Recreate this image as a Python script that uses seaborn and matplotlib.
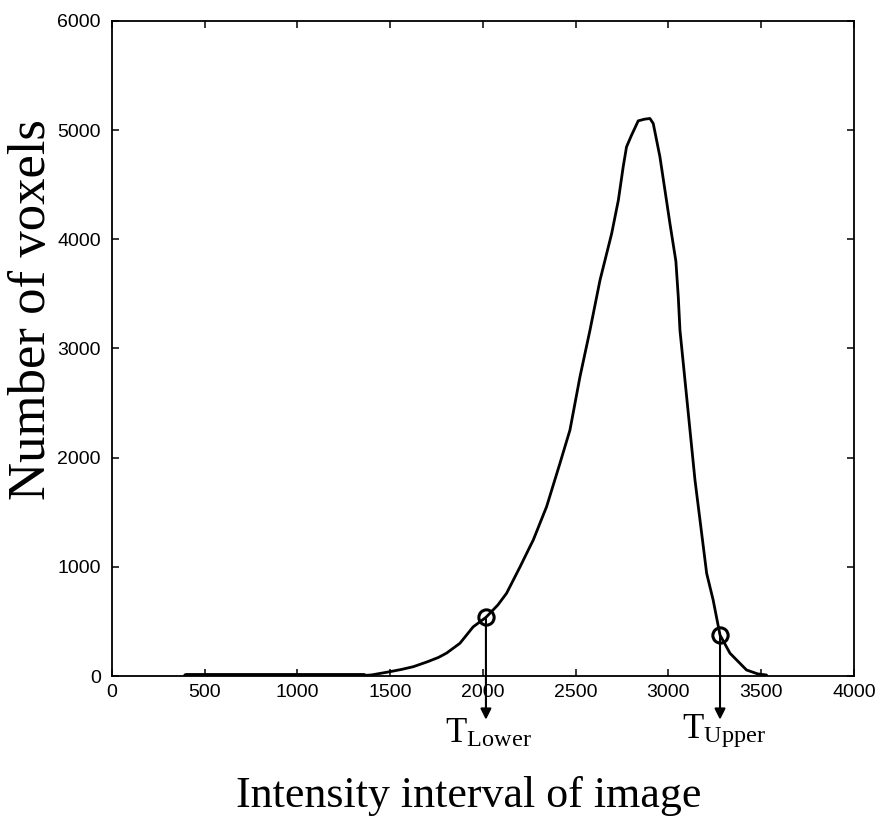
import matplotlib
matplotlib.use("Agg")
import matplotlib.pyplot as plt
import pandas as pd
import seaborn as sns

sns.set_style("ticks")
plt.rcParams['font.family'] = ['Liberation Sans', 'DejaVu Sans']
plt.rcParams['mathtext.fontset'] = 'stix'
plt.rcParams['text.color'] = 'black'
plt.rcParams['axes.labelcolor'] = 'black'
plt.rcParams['xtick.color'] = 'black'
plt.rcParams['ytick.color'] = 'black'

# flat zero run at the low end of the histogram
flat_x = [400, 600, 800, 1000, 1200, 1360]
flat_y = [0, 0, 0, 0, 0, 0]

# intensity vs voxel count
intensity = [1360, 1400, 1450, 1500, 1560, 1624, 1700, 1760, 1804, 1876, 1947, 2016,
             2080, 2127, 2200, 2253, 2271, 2343, 2415, 2469, 2523, 2577, 2631,
             2649, 2694, 2730, 2756, 2774, 2800, 2837, 2870, 2900, 2918, 2954, 2981,
             3008, 3040, 3053, 3062, 3089, 3116, 3143, 3170, 3206, 3241, 3278, 3332,
             3421, 3480, 3529]
voxels = [5, 10, 25, 40, 60, 85, 130, 170, 210, 300, 450, 537,
          650, 757, 1000, 1184, 1245, 1551, 1948, 2253, 2741, 3168, 3626,
          3748, 4054, 4359, 4664, 4847, 4950, 5085, 5100, 5107, 5061, 4756, 4451,
          4145, 3800, 3473, 3168, 2711, 2253, 1795, 1429, 940, 696, 375, 208,
          55, 20, 9]

thresh_x = [2016, 3278]
thresh_y = [537, 375]
thresh_labels = [r'T$_{\mathregular{Lower}}$', r'T$_{\mathregular{Upper}}$']
label_x = [1795, 3073]
label_y = [-610, -570]

df = pd.DataFrame({'intensity': intensity, 'voxels': voxels})
flat = pd.DataFrame({'intensity': flat_x, 'voxels': flat_y})

fig = plt.figure(figsize=(8.77, 8.19), dpi=100)
ax = fig.add_axes([0.1277, 0.1746, 0.846, 0.7998])

sns.lineplot(data=flat, x='intensity', y='voxels', color='black', linewidth=4.2, ax=ax)
sns.lineplot(data=df, x='intensity', y='voxels', color='black', linewidth=2.0, ax=ax)

ax.plot(thresh_x, thresh_y, linestyle='none', marker='o', markersize=11,
        markerfacecolor='none', markeredgecolor='black', markeredgewidth=2.2)

for tx, ty in zip(thresh_x, thresh_y):
    ax.annotate('', xy=(tx, -400), xytext=(tx, ty), annotation_clip=False,
                arrowprops=dict(arrowstyle='-|>', color='black', lw=1.5,
                                mutation_scale=16, shrinkA=0, shrinkB=0))

for lx, ly, lab in zip(label_x, label_y, thresh_labels):
    ax.text(lx, ly, lab, fontsize=25, family='Liberation Serif', color='black',
            ha='left', va='baseline', clip_on=False)

ax.set_xlim(0, 4000)
ax.set_ylim(0, 6000)
ax.set_xticks(range(0, 4001, 500))
ax.set_yticks(range(0, 6001, 1000))
ax.tick_params(direction='in', length=5, width=1.1, top=True, right=True,
               labelsize=14, colors='black')
ax.tick_params(axis='x', pad=6)
ax.tick_params(axis='y', pad=8)
for sp in ax.spines.values():
    sp.set_visible(True)
    sp.set_linewidth(1.3)
    sp.set_color('black')

ax.set_xlabel('Intensity interval of image', fontsize=31.7, family='Liberation Serif',
              color='black')
ax.set_ylabel('Number of voxels', fontsize=38, family='Liberation Serif', color='black')
ax.xaxis.set_label_coords(0.481, -0.152)
ax.yaxis.set_label_coords(-0.075, 0.56)

fig.savefig('out.png', dpi=100)
